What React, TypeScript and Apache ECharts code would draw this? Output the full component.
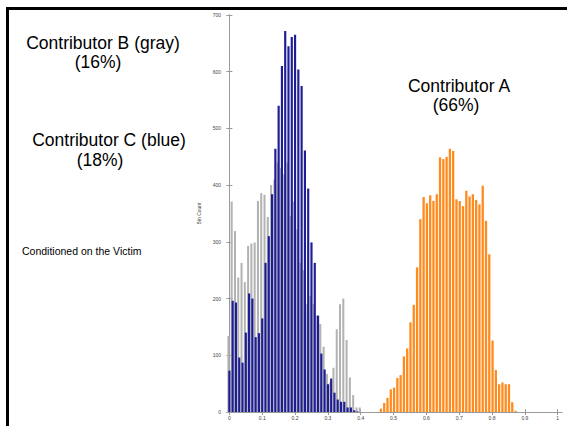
import React, { useEffect, useRef } from "react";
import * as echarts from "echarts";

// Histogram bins (width 0.01)
const binWidth = 0.01;
const grayStart = 0.0;
const blueStart = 0.0;
const orangeStart = 0.46;

// Contributor B (gray) bin counts, bins 0.00 .. 0.40
const grayCounts = [
  134, 371, 319, 237, 263, 229, 293, 297, 299, 372,
  386, 383, 344, 400, 410, 440, 430, 419, 440, 346,
  371, 322, 263, 250, 190, 205, 190, 170, 155, 115,
  67, 52, 78, 146, 190, 200, 127, 61, 30, 8,
  8,
];

// Contributor C (blue) bin counts, bins 0.00 .. 0.39
const blueCounts = [
  73, 196, 193, 96, 87, 140, 209, 200, 132, 139,
  165, 263, 310, 384, 464, 540, 610, 672, 645, 661,
  665, 604, 575, 461, 394, 299, 263, 170, 103, 75,
  49, 59, 34, 22, 18, 18, 8, 8, 3, 1,
];

// Contributor A (orange) bin counts, bins 0.46 .. 0.87
const orangeCounts = [
  6, 16, 25, 40, 43, 60, 65, 98, 112, 158,
  189, 255, 340, 379, 368, 382, 372, 384, 449, 446,
  450, 464, 460, 375, 372, 363, 390, 380, 384, 374,
  366, 399, 337, 278, 126, 74, 49, 52, 49, 49,
  17, 2,
];

const xTicks = [0, 0.1, 0.2, 0.3, 0.4, 0.5, 0.6, 0.7, 0.8, 0.9, 1];

const toPairs = (start: number, counts: number[]) =>
  counts.map((c, i) => [Math.round((start + i * binWidth) * 1000) / 1000, c]);

const FONT = "'Liberation Sans', Arial, Helvetica, sans-serif";

function makeRender(widthFrac: number, offsetPx: number, color: string) {
  return (params: any, api: any) => {
    const x = api.value(0);
    const y = api.value(1);
    const top = api.coord([x, y]);
    const base = api.coord([x, 0]);
    const w = api.size([binWidth, 0])[0] * widthFrac;
    return {
      type: "rect",
      shape: {
        x: top[0] - w / 2 + offsetPx,
        y: top[1],
        width: w,
        height: base[1] - top[1],
      },
      style: { fill: color },
    };
  };
}

const bigText = (text: string, x: number, y: number) => ({
  type: "text",
  x,
  y,
  style: {
    text,
    font: `17.5px ${FONT}`,
    fill: "#000",
    textAlign: "center",
    textVerticalAlign: "middle",
  },
});

export default function App() {
  const ref = useRef<HTMLDivElement>(null);

  useEffect(() => {
    if (!ref.current) return;
    const chart = echarts.init(ref.current, undefined, { renderer: "svg" });
    const axisColor = "#9a9a9a";
    const labelColor = "#444";
    const xMin = -0.0073;
    const xMax = 1.013;

    chart.setOption({
      animation: false,
      backgroundColor: "#ffffff",
      grid: {
        left: 227,
        right: 5,
        top: 15,
        bottom: 14,
        containLabel: false,
        outerBoundsMode: "none",
      },
      xAxis: [
        {
          type: "value",
          position: "bottom",
          min: xMin,
          max: xMax,
          name: "Mixture Weight",
          nameLocation: "middle",
          nameGap: 9,
          nameTextStyle: { fontSize: 6, color: labelColor, fontFamily: FONT },
          axisLine: { show: true, lineStyle: { color: axisColor, width: 1 } },
          axisTick: {
            show: true,
            inside: true,
            length: 3,
            customValues: xTicks,
            lineStyle: { color: axisColor },
          },
          axisLabel: {
            show: true,
            customValues: xTicks,
            fontSize: 5,
            color: labelColor,
            margin: 3,
            fontFamily: FONT,
            formatter: (v: number) => String(Math.round(v * 10) / 10),
          },
          splitLine: { show: false },
        },
        {
          type: "value",
          position: "top",
          min: xMin,
          max: xMax,
          axisLine: { show: true, lineStyle: { color: axisColor, width: 1 } },
          axisTick: {
            show: true,
            inside: true,
            length: 3,
            customValues: xTicks,
            lineStyle: { color: axisColor },
          },
          axisLabel: { show: false },
          splitLine: { show: false },
        },
      ],
      yAxis: [
        {
          type: "value",
          position: "left",
          min: 0,
          max: 700,
          interval: 100,
          name: "Bin Count",
          nameLocation: "middle",
          nameGap: 17,
          nameRotate: 90,
          nameTextStyle: { fontSize: 5, color: labelColor, fontFamily: FONT },
          axisLine: { show: true, lineStyle: { color: axisColor, width: 1 } },
          axisTick: {
            show: true,
            inside: true,
            length: 3,
            lineStyle: { color: axisColor },
          },
          axisLabel: {
            show: true,
            fontSize: 5,
            color: labelColor,
            margin: 6,
            fontFamily: FONT,
          },
          splitLine: { show: false },
        },
        {
          type: "value",
          position: "right",
          min: 0,
          max: 700,
          interval: 100,
          axisLine: { show: true, lineStyle: { color: axisColor, width: 1 } },
          axisTick: {
            show: true,
            inside: true,
            length: 3,
            lineStyle: { color: axisColor },
          },
          axisLabel: { show: false },
          splitLine: { show: false },
        },
      ],
      series: [
        {
          name: "Contributor B",
          type: "custom",
          xAxisIndex: 0,
          yAxisIndex: 0,
          renderItem: makeRender(0.62, -1, "#b3b3b3"),
          data: toPairs(grayStart, grayCounts),
          encode: { x: 0, y: 1 },
        },
        {
          name: "Contributor C",
          type: "custom",
          xAxisIndex: 0,
          yAxisIndex: 0,
          renderItem: makeRender(0.66, 0, "#1e1e94"),
          data: toPairs(blueStart, blueCounts),
          encode: { x: 0, y: 1 },
        },
        {
          name: "Contributor A",
          type: "custom",
          xAxisIndex: 0,
          yAxisIndex: 0,
          renderItem: makeRender(0.7, 0.5, "#ff8b1e"),
          data: toPairs(orangeStart, orangeCounts),
          encode: { x: 0, y: 1 },
        },
      ],
      graphic: [
        {
          type: "rect",
          shape: { x: 7.5, y: 8.5, width: 700, height: 600 },
          style: { fill: "none", stroke: "#000", lineWidth: 3 },
          silent: true,
        },
        bigText("Contributor B (gray)", 103, 43),
        bigText("(16%)", 98, 62),
        bigText("Contributor C (blue)", 109, 140),
        bigText("(18%)", 100, 160),
        bigText("Contributor A", 459, 86),
        bigText("(66%)", 456, 105),
        {
          type: "text",
          x: 22,
          y: 251,
          style: {
            text: "Conditioned on the Victim",
            font: `10.5px ${FONT}`,
            fill: "#000",
            textAlign: "left",
            textVerticalAlign: "middle",
          },
        },
      ],
    });

    return () => {
      chart.dispose();
    };
  }, []);

  return (
    <div
      ref={ref}
      style={{ position: "absolute", left: 0, top: 0, width: 567, height: 426 }}
    />
  );
}
